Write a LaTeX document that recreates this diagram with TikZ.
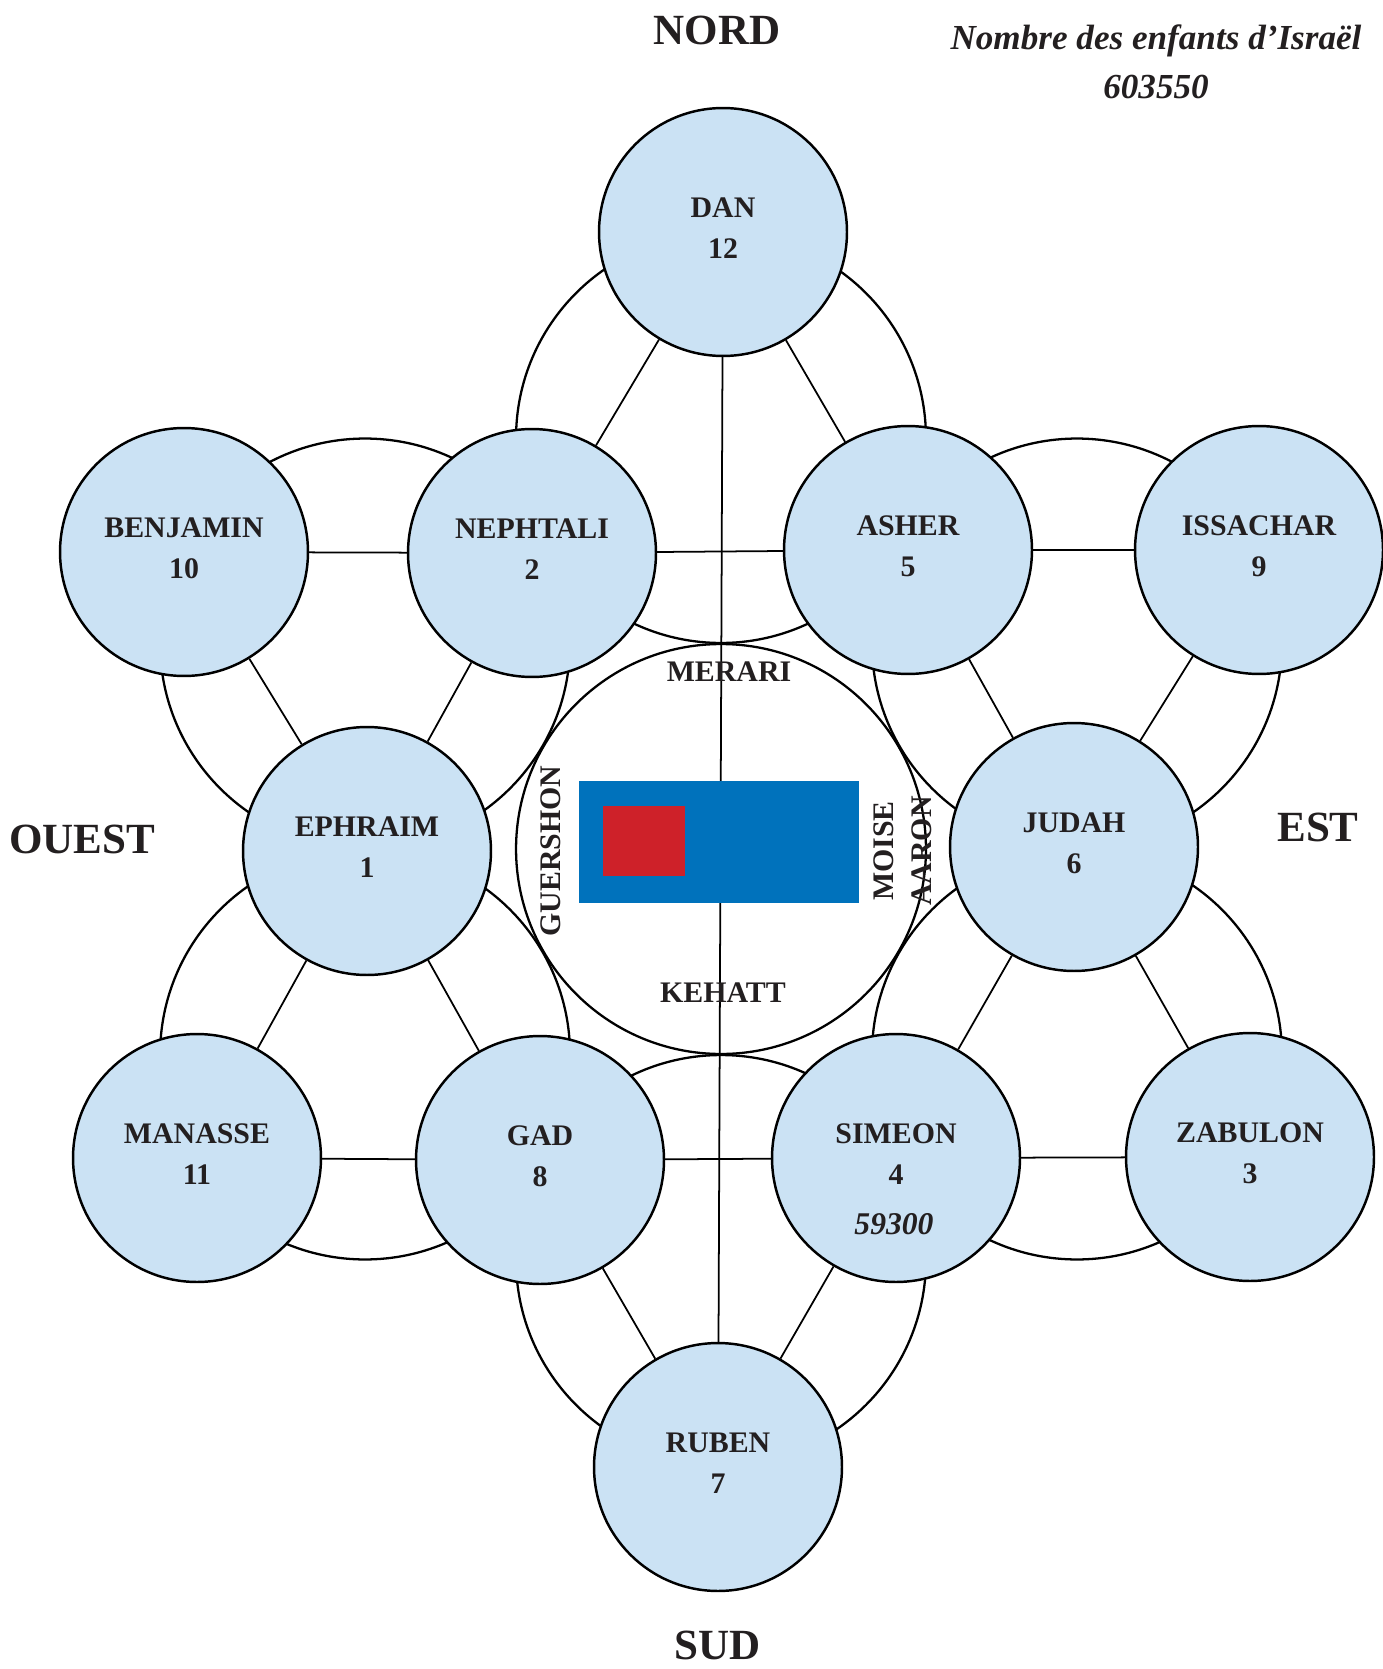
\documentclass[tikz,border=0pt]{standalone}
\usepackage{fontspec}
\setmainfont{Liberation Serif}
\usetikzlibrary{calc}
\definecolor{tribeblue}{RGB}{203,226,244}
\definecolor{arkblue}{RGB}{0,114,188}
\definecolor{arkred}{RGB}{206,33,41}
\definecolor{ink}{RGB}{35,31,32}

\begin{document}
\begin{tikzpicture}[x=0.02cm,y=-0.02cm,
		tribe/.style={circle,draw=black,line width=1.4pt,fill=tribeblue,minimum size=4.96cm,inner sep=0pt,align=center,text depth=4.5pt,text=ink,font=\fontsize{17}{23}\selectfont\bfseries},
		link/.style={line width=1pt},
		levite/.style={text=ink,inner sep=0pt,font=\fontsize{17}{21}\selectfont\bfseries},
		side/.style={text=ink,inner sep=0pt,font=\fontsize{24.5}{28}\selectfont\bfseries},
		count/.style={text=ink,inner sep=0pt,font=\fontsize{18}{21}\selectfont\bfseries\itshape}]
	\useasboundingbox (0,0) rectangle (1382,1669);
	\coordinate (ctr) at (721,849);
	% the seven camps
	\draw[line width=1.3pt] (ctr) circle[radius=4.1cm];
	\foreach \a in {30,90,...,330}
		\draw[line width=1.3pt] ($(ctr)+(\a:411)$) circle[radius=4.1cm];
	% tribes
	\node[tribe] (dan) at (723,232) {DAN\\12};
	\node[tribe] (benjamin) at (184,552) {BENJAMIN\\10};
	\node[tribe] (nephtali) at (532,553) {NEPHTALI\\2};
	\node[tribe] (asher) at (908,550) {ASHER\\5};
	\node[tribe] (issachar) at (1259,550) {ISSACHAR\\9};
	\node[tribe] (ephraim) at (367,851) {EPHRAIM\\1};
	\node[tribe] (judah) at (1074,847) {JUDAH\\6};
	\node[tribe] (manasse) at (197,1158) {MANASSE\\11};
	\node[tribe] (gad) at (540,1160) {GAD\\8};
	\node[tribe] (simeon) at (896,1158) {SIMEON\\4};
	\node[tribe] (zabulon) at (1250,1157) {ZABULON\\3};
	\node[tribe] (ruben) at (718,1467) {RUBEN\\7};
	\node[count] (simeoncount) at (894,1224) {59300};
	% links
	\draw[link] (dan) -- (nephtali) (nephtali) -- (asher) (asher) -- (dan);
	\draw[link] (benjamin) -- (nephtali) (nephtali) -- (ephraim) (ephraim) -- (benjamin);
	\draw[link] (asher) -- (issachar) (issachar) -- (judah) (judah) -- (asher);
	\draw[link] (judah) -- (zabulon) (zabulon) -- (simeon) (simeon) -- (judah);
	\draw[link] (gad) -- (simeon) (simeon) -- (ruben) (ruben) -- (gad);
	\draw[link] (ephraim) -- (gad) (gad) -- (manasse) (manasse) -- (ephraim);
	\draw[link] (dan) -- (ruben);
	% tabernacle
	\fill[arkblue] (579,781) rectangle (859,903);
	\fill[arkred] (603,806) rectangle (685,876);
	\node[levite] (merari) at (729,672) {MERARI};
	\node[levite] (kehatt) at (723,993) {KEHATT};
	\node[levite,rotate=90] (guershon) at (551,851) {GUERSHON};
	\node[levite,rotate=90] (moise) at (884,851) {MOISE};
	\node[levite,rotate=90] (aaron) at (922,851) {AARON};
	% sides
	\node[side] (nord) at (717,30) {NORD};
	\node[side] (sud) at (718,1645) {SUD};
	\node[side] (ouest) at (82,839) {OUEST};
	\node[side] (est) at (1318,827) {EST};
	\node[text=ink,inner sep=0pt,align=center,anchor=north,font=\fontsize{20}{28}\selectfont\bfseries\itshape] (total) at (1156,24) {Nombre des enfants d’Israël\\603550};
\end{tikzpicture}
\end{document}
